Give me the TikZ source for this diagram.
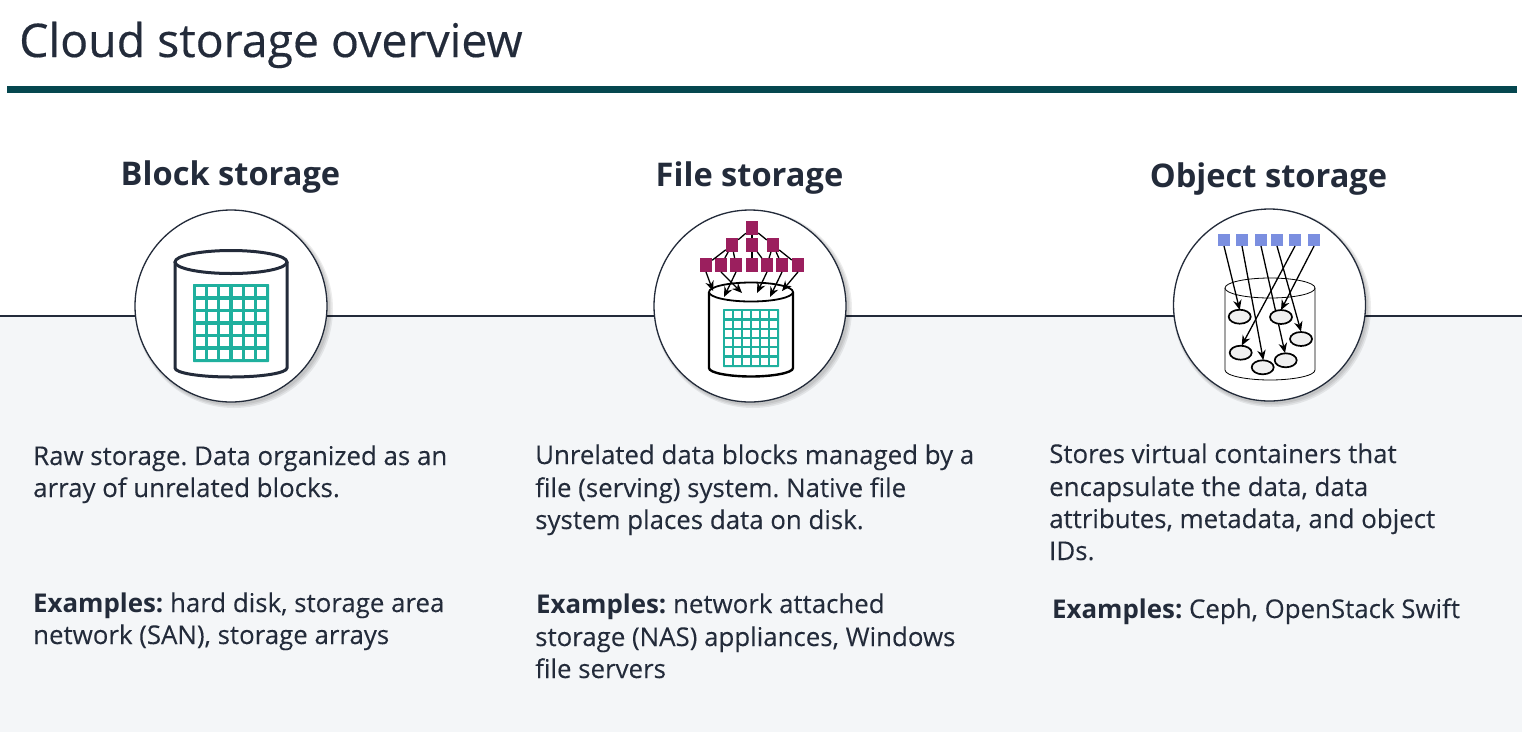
\documentclass[tikz,border=0pt]{standalone}
\usepackage{fontspec}
\setmainfont{Open Sans}
\newfontfamily\titlefont[FakeBold=0.35]{Open Sans}
\newfontfamily\bodyfont[FakeBold=0.12]{Open Sans}
\usetikzlibrary{arrows.meta,shadows,shapes.geometric}
\definecolor{ink}{HTML}{232B3A}
\definecolor{barc}{HTML}{05474F}
\definecolor{pane}{HTML}{F4F6F8}
\definecolor{teal}{HTML}{1FB09E}
\definecolor{plum}{HTML}{9B1F5E}
\definecolor{peri}{HTML}{7B8FE0}
\tikzset{
 x=1pt,y=-1pt,
 titletext/.style={font=\fontsize{46.4}{46}\selectfont\titlefont,text=ink,anchor=base west,inner sep=0pt},
 headtext/.style={font=\fontsize{32.6}{33}\selectfont\bfseries,text=ink,anchor=base,inner sep=0pt},
 bodytext/.style={font=\fontsize{25.85}{26}\selectfont\frenchspacing,text=ink,anchor=base west,inner sep=0pt},
 disc/.style={circle,draw=ink,line width=1.3pt,fill=white,minimum size=192pt,inner sep=0pt},
 discshadow/.style={circle,fill=black,minimum size=#1,inner sep=0pt,opacity=.07},
 plumsq/.style={rectangle,fill=plum,minimum width=12pt,minimum height=13.5pt,inner sep=0pt},
 perisq/.style={rectangle,fill=peri,minimum size=11.7pt,inner sep=0pt},
 tree/.style={draw=black,line width=1.3pt},
 arr/.style={draw=black,line width=1.3pt,-{Stealth[length=10pt,width=8.5pt]}},
 objell/.style={ellipse,draw=black,line width=1.7pt,fill=black!6,minimum width=22pt,minimum height=14pt,inner sep=0pt},
}
\newcommand{\gridcells}[5]{% x0 y0 x1 y1 width
 \fill[teal,rounded corners=.6pt] (#1,#2) rectangle (#3,#4);
 \pgfmathsetmacro{\cw}{((#3-#1)-7*#5)/6}
 \pgfmathsetmacro{\ch}{((#4-#2)-7*#5)/6}
 \foreach \i in {0,...,5}{\foreach \j in {0,...,5}{
   \fill[white] ({#1+#5+\i*(\cw+#5)},{#2+#5+\j*(\ch+#5)}) rectangle ++(\cw,\ch);
 }}
}
\newcommand{\softshadow}[2]{%
 \foreach \r/\dx in {198/3,196/2.5,194/2}{
   \node[discshadow=\r pt] at (#1+\dx,#2+\dx) {};
 }
}
\begin{document}
\begin{tikzpicture}
\useasboundingbox (0,0) rectangle (1522,732);
\fill[white] (0,0) rectangle (1522,732);
\fill[pane] (0,316) rectangle (1522,732);
\fill[barc] (7,86) rectangle (1517,92.5);
\coordinate (ruleL) at (0,316);
\coordinate (ruleR) at (1522,316);
\draw[ink,line width=1.1pt] (ruleL) -- (ruleR);
\node[titletext] (title) at (19,57) {Cloud storage overview};

% block
\node[headtext] (h1) at (230.5,185) {Block storage};
\softshadow{231}{306}
\node[disc] (c1) at (231,306) {};
\draw[ink,line width=3pt,fill=white] (175,262) -- (175,368) .. controls (175,373) and (200,377) .. (231,377) .. controls (262,377) and (287,373) .. (287,368) -- (287,262);
\draw[ink,line width=3pt,fill=white] (231,262) ellipse [x radius=56,y radius=11.5];
\gridcells{193}{284}{269}{362}{3.2}

% file
\node[headtext] (h2) at (749.5,186) {File storage};
\softshadow{750}{306}
\node[disc] (c2) at (750,306) {};
\draw[black,line width=2.4pt,fill=white] (709,292) -- (709,368) .. controls (709,373) and (730,376.5) .. (751,376.5) .. controls (772,376.5) and (793,373) .. (793,368) -- (793,292);
\draw[black,line width=1.8pt,fill=white] (751,292) ellipse [x radius=42,y radius=9.5];
\gridcells{723}{309}{779}{367}{2.3}
\node[plumsq] (a) at (752,228) {};
\node[plumsq] (b1) at (732,245) {};
\node[plumsq] (b2) at (752,245) {};
\node[plumsq] (b3) at (773,245) {};
\node[plumsq] (s1) at (706,265) {};
\node[plumsq] (s2) at (721,265) {};
\node[plumsq] (s3) at (736,265) {};
\node[plumsq] (s4) at (752,265) {};
\node[plumsq] (s5) at (767,265) {};
\node[plumsq] (s6) at (782,265) {};
\node[plumsq] (s7) at (798,265) {};
\foreach \p/\q in {a/b1,a/b2,a/b3,b1/s1,b1/s2,b1/s3,b2/s4,b2/s5,b3/s5,b3/s6,b3/s7}
  \draw[tree] (\p) -- (\q);
\coordinate (e1) at (713,291);
\coordinate (e2) at (742,293);
\coordinate (e3) at (724,297);
\coordinate (e5) at (757,293);
\coordinate (e6) at (770,297);
\coordinate (e7) at (782,291);
\draw[arr] (s1.south) -- (e1);
\draw[arr] (s2.south) -- (e2);
\draw[arr] (s3.south) -- (e3);
\draw[arr] (s5.south) -- (e5);
\draw[arr] (s6.south) -- (e6);
\draw[arr] (s7.south) -- (e7);

% object
\node[headtext] (h3) at (1268.5,187) {Object storage};
\softshadow{1269}{305}
\node[disc] (c3) at (1269.5,305) {};
\draw[black,line width=.8pt,fill=white] (1225,288) -- (1225,370) .. controls (1225,376) and (1248,380) .. (1270,380) .. controls (1292,380) and (1315,376) .. (1315,370) -- (1315,288);
\draw[black,line width=.8pt,fill=white] (1270,288) ellipse [x radius=45,y radius=10];
\node[perisq] (t1) at (1224,240) {};
\node[perisq] (t2) at (1242,240) {};
\node[perisq] (t3) at (1261,240) {};
\node[perisq] (t4) at (1277,240) {};
\node[perisq] (t5) at (1295,240) {};
\node[perisq] (t6) at (1314,240) {};
\coordinate (o1) at (1239.7,310);
\coordinate (o2) at (1263.3,360);
\coordinate (o3) at (1285,353);
\coordinate (o4) at (1301,331.5);
\coordinate (o5) at (1241.7,345.5);
\coordinate (o6) at (1281,310);
\draw[arr] (t3.south) -- (o3);
\node[objell] (n1) at (1239.7,316.7) {};
\node[objell] (n2) at (1281,317) {};
\node[objell] (n3) at (1301,339) {};
\node[objell] (n4) at (1240.7,352.7) {};
\node[objell] (n5) at (1285.7,360.3) {};
\node[objell] (n6) at (1262.7,367.3) {};
\draw[arr] (t1.south) -- (o1);
\draw[arr] (t2.south) -- (o2);
\draw[arr] (t4.south) -- (o4);
\draw[arr] (t5.south) -- (o5);
\draw[arr] (t6.south) -- (o6);

% text
\node[bodytext] (l1) at (33,465) {\bodyfont Raw storage. Data organized as an};
\node[bodytext] (l2) at (33,497) {\bodyfont array of unrelated blocks.};
\node[bodytext] (l3) at (33,612) {\textbf{Examples:} \bodyfont hard disk, storage area};
\node[bodytext] (l4) at (33,644) {\bodyfont network (SAN), storage arrays};
\node[bodytext] (m1) at (535,464) {\bodyfont Unrelated data blocks managed by a};
\node[bodytext] (m2) at (535,497) {\bodyfont file (serving) system. Native file};
\node[bodytext] (m3) at (535,529) {\bodyfont system places data on disk.};
\node[bodytext] (m4) at (536,613) {\textbf{Examples:} \bodyfont network attached};
\node[bodytext] (m5) at (535,646) {\bodyfont storage (NAS) appliances, Windows};
\node[bodytext] (m6) at (535,678) {\bodyfont file servers};
\node[bodytext] (r1) at (1049,463) {\bodyfont Stores virtual containers that};
\node[bodytext] (r2) at (1049,496) {\bodyfont encapsulate the data, data};
\node[bodytext] (r3) at (1049,528) {\bodyfont attributes, metadata, and object};
\node[bodytext] (r4) at (1049,560) {\bodyfont IDs.};
\node[bodytext] (r5) at (1052,618) {\textbf{Examples:} \bodyfont Ceph, OpenStack Swift};
\end{tikzpicture}
\end{document}
